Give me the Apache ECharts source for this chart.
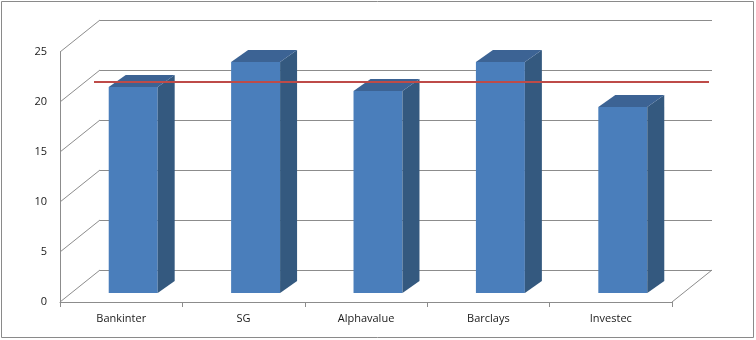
<!DOCTYPE html>
<html>
<head>
<meta charset="utf-8">
<script src="https://cdn.jsdelivr.net/npm/echarts@6/dist/echarts.min.js"></script>
<style>html,body{margin:0;padding:0;background:#fff}#c{width:756px;height:340px}</style>
</head>
<body>
<div id="c"></div>
<script>
var categories = ['Bankinter', 'SG', 'Alphavalue', 'Barclays', 'Investec'];
var values = [20.6, 23.1, 20.2, 23.1, 18.6];
var averageValue = [21.1];
var yTicks = [0, 5, 10, 15, 20, 25];

var DX = 40, DY = -32;          // wall depth offset
var BX = 12, BY = -9;           // bar front-face depth offset
var SX = 17, SY = -12;          // bar depth
var GRID = '#8c8c8c';
var FONT = 'Open Sans';

var chart = echarts.init(document.getElementById('c'), null, {renderer: 'canvas'});

function bandEdges(api) {
  var bw = api.size([1, 0])[0];
  var left = api.coord([0, 0])[0] - bw / 2;
  var right = api.coord([categories.length - 1, 0])[0] + bw / 2;
  return {left: left, right: right, bw: bw};
}

var option = {
  animation: false,
  backgroundColor: '#fff',
  graphic: [{
    type: 'rect', shape: {x: 1.5, y: 1.5, width: 752, height: 336},
    style: {fill: 'none', stroke: '#8a8a8a', lineWidth: 1}, z: 0
  }],
  grid: [
    {left: 60, width: 612, top: 52, height: 250},
    {left: 60 + DX, width: 612, top: 52 + DY, height: 250}
  ],
  xAxis: [
    {type: 'category', gridIndex: 0, data: categories,
     axisLine: {lineStyle: {color: GRID}},
     axisTick: {show: true, interval: 0, length: 5, lineStyle: {color: GRID}},
     axisLabel: {color: '#1a1a1a', fontSize: 11, fontFamily: FONT, margin: 11}},
    {type: 'category', gridIndex: 1, data: categories, show: false}
  ],
  yAxis: [
    {type: 'value', gridIndex: 0, min: 0, max: 25, interval: 5,
     axisLine: {show: true, lineStyle: {color: GRID}},
     axisTick: {show: false},
     splitLine: {show: false},
     axisLabel: {color: '#1a1a1a', fontSize: 11, fontFamily: FONT, margin: 13}},
    {type: 'value', gridIndex: 1, min: 0, max: 25, interval: 5,
     axisLine: {show: false}, axisTick: {show: false}, axisLabel: {show: false},
     splitLine: {show: true, lineStyle: {color: GRID, width: 1}}}
  ],
  series: [
    {
      type: 'custom', xAxisIndex: 0, yAxisIndex: 0, z: 1,
      data: yTicks.map(function (t) { return [0, t]; }),
      renderItem: function (params, api) {
        var e = bandEdges(api);
        var y = api.coord([0, api.value(1)])[1];
        var children = [{
          type: 'line',
          shape: {x1: e.left, y1: y, x2: e.left + DX, y2: y + DY},
          style: {stroke: GRID, lineWidth: 1}
        }];
        if (api.value(1) === 0) {
          children.push({
            type: 'line',
            shape: {x1: e.right, y1: y, x2: e.right + DX, y2: y + DY},
            style: {stroke: GRID, lineWidth: 1}
          });
        }
        return {type: 'group', children: children};
      }
    },
    {
      type: 'custom', xAxisIndex: 0, yAxisIndex: 0, z: 3,
      data: values.map(function (v, i) { return [i, v]; }),
      renderItem: function (params, api) {
        var bw = api.size([1, 0])[0] * 0.4;
        var c = api.coord([api.value(0), 0]);
        var t = api.coord([api.value(0), api.value(1)]);
        var xl = c[0] + BX - bw / 2, xr = c[0] + BX + bw / 2;
        var yb = c[1] + BY, yt = t[1] + BY;
        return {
          type: 'group',
          children: [
            {type: 'rect', shape: {x: xl, y: yt, width: bw, height: yb - yt},
             style: {fill: '#4a7ebb'}},
            {type: 'polygon', shape: {points: [[xr, yt], [xr + SX, yt + SY], [xr + SX, yb + SY], [xr, yb]]},
             style: {fill: '#34597f'}},
            {type: 'polygon', shape: {points: [[xl, yt], [xl + SX, yt + SY], [xr + SX, yt + SY], [xr, yt]]},
             style: {fill: '#3c6394'}}
          ]
        };
      }
    },
    {
      type: 'custom', xAxisIndex: 0, yAxisIndex: 0, z: 5,
      data: averageValue.map(function (v) { return [0, v]; }),
      renderItem: function (params, api) {
        var e = bandEdges(api);
        var y = api.coord([0, api.value(1)])[1] + BY;
        return {
          type: 'line',
          shape: {x1: e.left + 34, y1: y, x2: e.right + 37, y2: y},
          style: {stroke: '#be4b48', lineWidth: 2}
        };
      }
    }
  ]
};
chart.setOption(option);
</script>
</body>
</html>
